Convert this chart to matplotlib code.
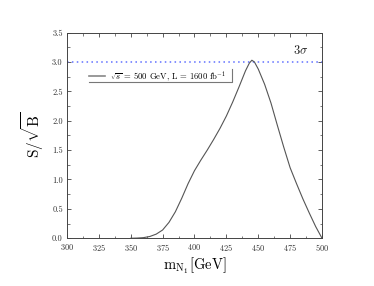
import matplotlib
matplotlib.use("Agg")
import matplotlib.pyplot as plt
from matplotlib.ticker import MultipleLocator, FormatStrFormatter

mass = [350, 355, 360, 365, 370, 375, 380, 385, 390, 395, 400, 405, 410, 415,
        420, 425, 430, 435, 440, 443, 445, 447, 450, 455, 460, 465, 470, 475,
        480, 485, 490, 495, 500]
signif = [0.0, 0.003, 0.01, 0.03, 0.07, 0.14, 0.27, 0.45, 0.68, 0.93, 1.15,
          1.33, 1.50, 1.68, 1.87, 2.08, 2.32, 2.58, 2.85, 2.98, 3.03, 3.0,
          2.88, 2.62, 2.3, 1.92, 1.55, 1.2, 0.93, 0.67, 0.43, 0.2, 0.0]
threshold = 3.0
legend_label = r"$\sqrt{s}$ = 500 GeV, L = 1600 fb$^{-1}$"

plt.rcParams['font.family'] = 'cmr10'
plt.rcParams['mathtext.fontset'] = 'cm'
plt.rcParams['axes.formatter.use_mathtext'] = True

fig = plt.figure(figsize=(3.74, 2.86), dpi=100)
ax = fig.add_axes([0.179, 0.167, 0.682, 0.719])

ax.axhline(threshold, color='#6070ff', ls=(0, (1, 2.2)), lw=1.1)
ax.plot(mass, signif, color='#555555', lw=0.8, label=legend_label)

ax.set_xlim(300, 500)
ax.set_ylim(0, 3.5)
ax.xaxis.set_major_locator(MultipleLocator(25))
ax.xaxis.set_minor_locator(MultipleLocator(12.5))
ax.yaxis.set_major_locator(MultipleLocator(0.5))
ax.yaxis.set_minor_locator(MultipleLocator(0.25))
ax.yaxis.set_major_formatter(FormatStrFormatter('%.1f'))
ax.tick_params(which='both', direction='in', top=True, right=True,
               labelsize=6, color='#444444', labelcolor='#333333', pad=3)
ax.tick_params(which='major', length=3, width=0.6)
ax.tick_params(which='minor', length=1.8, width=0.5)
for s in ax.spines.values():
    s.set_color('#444444')
    s.set_linewidth(0.7)

ax.text(477, 3.13, r"$3\sigma$", fontsize=9, color='#222222')

leg = ax.legend(loc='center left', bbox_to_anchor=(0.0875, 0.787), fontsize=6.2,
                frameon=False, handlelength=1.85, borderpad=0, borderaxespad=0,
                handletextpad=0.6)
for h in leg.get_lines():
    h.set_linewidth(1.2)
    h.set_color('#888888')

# legend box edge (bottom and right strokes)
ax.plot([0.0875, 0.648, 0.648], [0.762, 0.762, 0.822], transform=ax.transAxes,
        color='#777777', lw=0.8, clip_on=False)

ax.set_xlabel(r"$\mathrm{m_{N_1}[GeV]}$", fontsize=10.5, labelpad=2)
ax.set_ylabel(r"$\mathrm{S}/\sqrt{\mathrm{B}}$", fontsize=11, labelpad=4)

fig.savefig('out.png', dpi=100)
